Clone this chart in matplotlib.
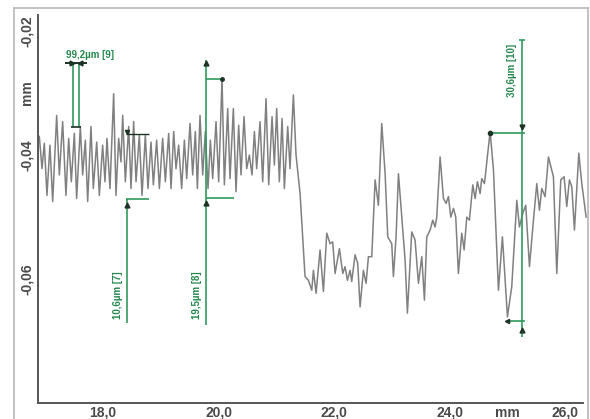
import matplotlib.pyplot as plt
from matplotlib.lines import Line2D

# ── Profile data (mm) ─────────────────────────────────────────────────────────
profile_x = [
    16.898, 16.944, 16.984, 17.030, 17.082, 17.129, 17.198, 17.244, 17.302, 17.359,
    17.406, 17.452, 17.504, 17.544, 17.608, 17.648, 17.694, 17.735, 17.792, 17.833,
    17.891, 17.937, 17.994, 18.035, 18.069, 18.121, 18.185, 18.225, 18.271, 18.312,
    18.341, 18.387, 18.445, 18.485, 18.531, 18.572, 18.629, 18.676, 18.733, 18.779,
    18.831, 18.872, 18.929, 18.976, 19.033, 19.080, 19.137, 19.178, 19.224, 19.264,
    19.310, 19.362, 19.409, 19.449, 19.507, 19.553, 19.599, 19.634, 19.680, 19.726,
    19.772, 19.818, 19.859, 19.899, 19.957, 20.003, 20.061, 20.101, 20.159, 20.199,
    20.257, 20.303, 20.349, 20.390, 20.442, 20.488, 20.534, 20.580, 20.621, 20.661,
    20.719, 20.765, 20.823, 20.869, 20.927, 20.967, 21.007, 21.053, 21.100, 21.140,
    21.198, 21.238, 21.296, 21.342,
    21.412, 21.498, 21.556, 21.614, 21.643, 21.689, 21.758, 21.816, 21.874, 21.931,
    21.977, 22.018, 22.093, 22.151, 22.191, 22.231, 22.278, 22.306, 22.364, 22.410,
    22.451, 22.508, 22.555, 22.595, 22.653, 22.711, 22.768, 22.826, 22.884, 22.930,
    22.999, 23.028, 23.074, 23.115, 23.172, 23.230, 23.270, 23.345, 23.403, 23.461,
    23.519, 23.565, 23.605, 23.663, 23.709, 23.749, 23.778, 23.836, 23.894, 23.940,
    23.980, 24.021, 24.067, 24.107, 24.153, 24.211, 24.252, 24.298, 24.344, 24.402,
    24.442, 24.482, 24.529, 24.557, 24.604, 24.702, 24.760, 24.846, 24.915, 25.002,
    25.077, 25.164, 25.210, 25.267, 25.319, 25.383, 25.452, 25.510, 25.556, 25.596,
    25.654, 25.712, 25.798, 25.856, 25.925, 25.983, 26.029, 26.075, 26.116, 26.162,
    26.237, 26.289, 26.364,
]
profile_y = [
    -0.0370, -0.0422, -0.0381, -0.0465, -0.0384, -0.0475, -0.0336, -0.0432, -0.0346, -0.0465,
    -0.0373, -0.0443, -0.0365, -0.0470, -0.0354, -0.0432, -0.0376, -0.0475, -0.0354, -0.0454,
    -0.0379, -0.0465, -0.0384, -0.0443, -0.0373, -0.0454, -0.0301, -0.0465, -0.0373, -0.0411,
    -0.0336, -0.0443, -0.0354, -0.0454, -0.0346, -0.0443, -0.0368, -0.0465, -0.0368, -0.0454,
    -0.0379, -0.0448, -0.0376, -0.0454, -0.0373, -0.0443, -0.0365, -0.0454, -0.0362, -0.0422,
    -0.0384, -0.0454, -0.0376, -0.0438, -0.0349, -0.0432, -0.0362, -0.0454, -0.0336, -0.0432,
    -0.0362, -0.0454, -0.0376, -0.0438, -0.0346, -0.0443, -0.0276, -0.0448, -0.0325, -0.0438,
    -0.0325, -0.0459, -0.0352, -0.0432, -0.0338, -0.0422, -0.0400, -0.0432, -0.0362, -0.0422,
    -0.0346, -0.0443, -0.0309, -0.0448, -0.0338, -0.0416, -0.0325, -0.0443, -0.0341, -0.0454,
    -0.0354, -0.0422, -0.0303, -0.0400,
    -0.0462, -0.0596, -0.0602, -0.0618, -0.0586, -0.0623, -0.0553, -0.0620, -0.0526, -0.0543,
    -0.0540, -0.0591, -0.0551, -0.0591, -0.0580, -0.0602, -0.0586, -0.0604, -0.0561, -0.0575,
    -0.0645, -0.0586, -0.0607, -0.0564, -0.0564, -0.0440, -0.0481, -0.0349, -0.0430, -0.0532,
    -0.0543, -0.0596, -0.0532, -0.0430, -0.0500, -0.0569, -0.0655, -0.0524, -0.0537, -0.0607,
    -0.0564, -0.0634, -0.0532, -0.0521, -0.0505, -0.0516, -0.0500, -0.0403, -0.0470, -0.0478,
    -0.0467, -0.0500, -0.0486, -0.0500, -0.0591, -0.0526, -0.0553, -0.0500, -0.0505, -0.0448,
    -0.0470, -0.0443, -0.0462, -0.0438, -0.0446, -0.0362, -0.0424, -0.0618, -0.0532, -0.0661,
    -0.0612, -0.0473, -0.0516, -0.0494, -0.0481, -0.0580, -0.0505, -0.0446, -0.0489, -0.0454,
    -0.0467, -0.0403, -0.0435, -0.0591, -0.0440, -0.0435, -0.0483, -0.0440, -0.0451, -0.0521,
    -0.0397, -0.0446, -0.0500,
]

# ── Axis ticks ────────────────────────────────────────────────────────────────
x_ticks = [18.0, 20.0, 22.0, 24.0, 25.0, 26.0]
x_labels = ["18,0", "20,0", "22,0", "24,0", "mm", "26,0"]
y_ticks = [-0.02, -0.03, -0.04, -0.06]
y_labels = ["-0,02", "mm", "-0,04", "-0,06"]

GREEN = "#2f9a5e"
TEXT_GREEN = "#23884d"
DARK = "#1d3326"

fig = plt.figure(figsize=(5.9, 4.19), dpi=100)
plt.rcParams["font.family"] = ["Liberation Sans", "DejaVu Sans"]
ax = fig.add_axes([38 / 590, 16 / 419, 545 / 590, 388 / 419])

ax.plot(profile_x, profile_y, color="#808080", lw=1.1, zorder=2, clip_on=False)

ax.set_xlim(16.875, 26.31)
ax.set_ylim(-0.08, -0.0174)
ax.set_xticks(x_ticks, x_labels)
ax.set_yticks(y_ticks, y_labels)
ax.tick_params(axis="x", length=0, pad=2, labelsize=10, labelcolor="#4a4a4a")
ax.tick_params(axis="y", length=0, pad=3, labelsize=10, labelcolor="#4a4a4a")
for lbl in ax.get_xticklabels() + ax.get_yticklabels():
    lbl.set_fontweight("bold")
for lbl in ax.get_yticklabels():
    lbl.set_rotation(90)
    lbl.set_va("center")
for s in ["top", "right"]:
    ax.spines[s].set_visible(False)
for s in ["left", "bottom"]:
    ax.spines[s].set_color("#555555")
    ax.spines[s].set_linewidth(1.4)


def seg(xs, ys, color=GREEN, lw=1.2):
    ax.plot(xs, ys, color=color, lw=lw, zorder=4, solid_capstyle="butt")


def mark(x, y, m, ms=3.5):
    ax.plot(x, y, m, color=DARK, ms=ms, zorder=5)


# ── [9] horizontal distance ───────────────────────────────────────────────────
seg([17.48, 17.48], [-0.0252, -0.0355])
seg([17.58, 17.58], [-0.0252, -0.0355])
seg([17.35, 17.72], [-0.0252, -0.0252], color=DARK, lw=1.4)
seg([17.45, 17.62], [-0.0355, -0.0355], color=DARK, lw=1.2)
mark(17.46, -0.0252, ">")
mark(17.60, -0.0252, "<")
ax.text(17.36, -0.0247, "99,2µm [9]", color=TEXT_GREEN, fontsize=7,
        fontweight="bold", ha="left", va="bottom", zorder=6)

# ── [7] vertical distance ─────────────────────────────────────────────────────
seg([18.40, 18.80], [-0.0366, -0.0366], color=DARK, lw=1.0)
seg([18.40, 18.80], [-0.0471, -0.0471])
seg([18.42, 18.42], [-0.0471, -0.0671])
mark(18.42, -0.0362, "v", ms=3)
mark(18.42, -0.0480, "^")
ax.text(18.26, -0.0626, "10,6µm [7]", color=TEXT_GREEN, fontsize=7,
        fontweight="bold", rotation=90, ha="center", va="center", zorder=6)

# ── [8] vertical distance ─────────────────────────────────────────────────────
seg([19.784, 19.784], [-0.0247, -0.0674])
seg([19.784, 20.06], [-0.0277, -0.0277])
seg([19.784, 20.27], [-0.0469, -0.0469])
mark(19.784, -0.0252, "^")
mark(20.06, -0.0277, "o", ms=2.5)
mark(19.784, -0.0478, "^")
ax.text(19.63, -0.0626, "19,5µm [8]", color=TEXT_GREEN, fontsize=7,
        fontweight="bold", rotation=90, ha="center", va="center", zorder=6)

# ── [10] vertical distance ────────────────────────────────────────────────────
seg([25.256, 25.256], [-0.0215, -0.0694])
seg([25.21, 25.30], [-0.0215, -0.0215])
seg([24.702, 25.30], [-0.0365, -0.0365])
seg([25.0, 25.30], [-0.0668, -0.0668])
mark(25.256, -0.0355, "v")
mark(25.256, -0.0682, "^")
mark(24.702, -0.0364, "o", ms=3)
mark(25.0, -0.0668, "<", ms=3)
ax.text(25.08, -0.0263, "30,6µm [10]", color=TEXT_GREEN, fontsize=7,
        fontweight="bold", rotation=90, ha="center", va="center", zorder=6)

# ── Outer frame ───────────────────────────────────────────────────────────────
fx0, fx1, fy1 = 14 / 590, 588 / 590, 411 / 419
for xs, ys in [([fx0, fx0], [0, fy1]), ([fx0, fx1], [fy1, fy1]), ([fx1, fx1], [0, fy1])]:
    fig.add_artist(Line2D(xs, ys, transform=fig.transFigure, color="#bdbdbd", lw=1.3))

fig.savefig("out.png", dpi=100)
